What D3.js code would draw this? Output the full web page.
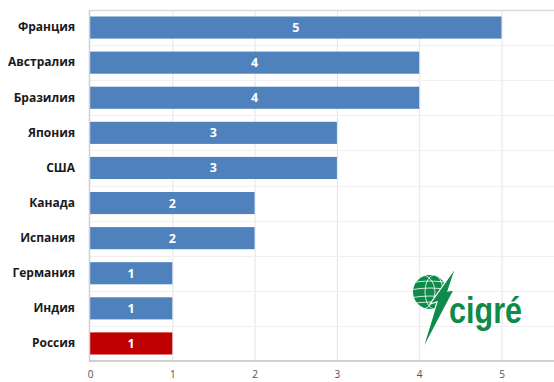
<!DOCTYPE html>
<html><head><meta charset="utf-8">
<script src="https://cdn.jsdelivr.net/npm/d3@7"></script>
<style>
html,body{margin:0;padding:0;background:#fff;}
svg{display:block;}
</style></head>
<body>
<svg id="c" width="554" height="382"></svg>
<script>
const categories = ["Франция","Австралия","Бразилия","Япония","США","Канада","Испания","Германия","Индия","Россия"];
const values = [5,4,4,3,3,2,2,1,1,1];
const highlight = ["Россия"];
const tickValues = [0,1,2,3,4,5];

const svg = d3.select("#c");
const mLeft = 90, mTop = 10, mBottom = 361;
const x = d3.scaleLinear().domain([0,6]).range([mLeft, mLeft + 82.3*6]);
const y = d3.scaleBand().domain(categories).range([mTop, mBottom]).paddingInner(0.37).paddingOuter(0.185);
const yb = d3.scaleBand().domain(categories).range([mTop, mBottom]);

// gridlines vertical
svg.append("g").selectAll("line").data(tickValues.slice(1)).join("line")
  .attr("x1", d=>x(d)+0.5).attr("x2", d=>x(d)+0.5).attr("y1", mTop).attr("y2", mBottom)
  .attr("stroke", "#e4e4e4").attr("stroke-width", 1);
// horizontal band lines
svg.append("g").selectAll("line").data(categories.slice(1)).join("line")
  .attr("x1", mLeft).attr("x2", 554).attr("y1", d=>Math.round(yb(d))+0.5).attr("y2", d=>Math.round(yb(d))+0.5)
  .attr("stroke", "#f0f0f0").attr("stroke-width", 1);
// top border
svg.append("line").attr("x1", mLeft).attr("x2", 554).attr("y1", mTop+0.5).attr("y2", mTop+0.5)
  .attr("stroke", "#d9d9d9").attr("stroke-width", 1.5);

// bars
svg.append("g").selectAll("rect").data(categories).join("rect")
  .attr("x", x(0)).attr("y", d=>y(d)).attr("height", y.bandwidth())
  .attr("width", (d,i)=>x(values[i]) - x(0))
  .attr("fill", d=> highlight.includes(d) ? "#c00000" : "#4f81bd");

// value labels
svg.append("g").selectAll("text").data(categories).join("text")
  .attr("x", (d,i)=>(x(values[i])+x(0))/2).attr("y", d=>y(d)+y.bandwidth()/2)
  .attr("dy", "0.36em").attr("text-anchor", "middle")
  .attr("font-family", "Open Sans, sans-serif").attr("font-weight", "bold").attr("font-size", 12.5)
  .attr("fill", "#fff").text((d,i)=>values[i]);

// left axis line & bottom axis
svg.append("line").attr("x1", mLeft-0.5).attr("x2", mLeft-0.5).attr("y1", mTop).attr("y2", mBottom)
  .attr("stroke", "#d0d0d0").attr("stroke-width", 1.5);
const xAxis = d3.axisBottom(x).tickValues(tickValues).tickSize(0).tickPadding(10).tickFormat(d3.format("d"));
const gx = svg.append("g").attr("transform", `translate(0,${mBottom})`).call(xAxis);
gx.select(".domain").attr("stroke", "#bfbfbf").attr("stroke-width", 1.5).attr("d", `M${mLeft-1},0H554`);
gx.selectAll("text").attr("font-family", "Open Sans, sans-serif").attr("font-size", 10).attr("fill", "#505050");

// category labels
const yAxis = d3.axisLeft(y).tickSize(0).tickPadding(15);
const gy = svg.append("g").attr("transform", `translate(${mLeft},0)`).call(yAxis);
gy.select(".domain").remove();
gy.selectAll("text").attr("font-family", "Open Sans, sans-serif").attr("font-weight", "bold")
  .attr("font-size", 12).attr("fill", "#1a1a1a");

// CIGRE logo
const green = "#0e8a4a";
const logo = svg.append("g");
const defs = svg.append("defs");
defs.append("clipPath").attr("id","gc").append("circle").attr("cx",430).attr("cy",292).attr("r",17);
logo.append("circle").attr("cx",430).attr("cy",292).attr("r",17).attr("fill",green);
const gl = logo.append("g").attr("clip-path","url(#gc)").attr("stroke","#fff").attr("stroke-width",0.8).attr("fill","none");
[-9,-2,6,12].forEach(o=>gl.append("path").attr("d",`M410,${292+o} Q430,${292+o-4} 450,${292+o}`));
[-8,4].forEach(o=>gl.append("ellipse").attr("cx",430+o).attr("cy",292).attr("rx",Math.abs(o)+5).attr("ry",17));
logo.append("polygon")
  .attr("points","456,267 448,291 454,290 422,351 437,302 430,304")
  .attr("fill",green).attr("stroke","#fff").attr("stroke-width",1.2);
logo.append("text").attr("x",449).attr("y",323).attr("font-family","Liberation Sans, Arial, sans-serif")
  .attr("font-weight","bold").attr("font-size",37).attr("fill",green)
  .attr("textLength",73).attr("lengthAdjust","spacingAndGlyphs").text("cigré");
</script>
</body></html>
